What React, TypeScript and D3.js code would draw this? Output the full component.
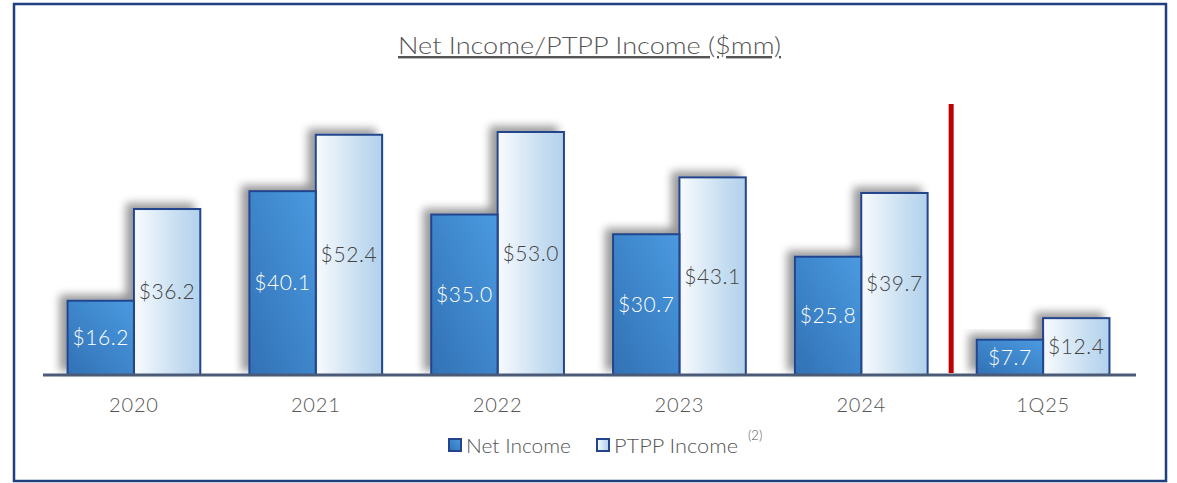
import React from 'react';
import * as d3 from 'd3';

const categories = ['2020', '2021', '2022', '2023', '2024', '1Q25'];
const netIncome = [16.2, 40.1, 35.0, 30.7, 25.8, 7.7];
const ptppIncome = [36.2, 52.4, 53.0, 43.1, 39.7, 12.4];
const seriesNames = ['Net Income', 'PTPP Income'];

const W = 1177;
const H = 483;
const font = "Lato, 'Open Sans', sans-serif";

export default function App() {
  const x = d3.scaleBand().domain(categories).range([43, 1134]).paddingInner(0.27).paddingOuter(0.135);
  const y = d3.scaleLinear().domain([0, 53]).range([375, 132]);
  const half = x.bandwidth() / 2;
  const fmt = (v: number) => '$' + v.toFixed(1);
  const divider = (x(categories[4])! + x.bandwidth() + x(categories[5])!) / 2 - 1;

  return (
    <svg width={W} height={H} style={{ position: 'absolute', left: 0, top: 0 }}>
      <defs>
        <linearGradient id="gNet" x1="0" y1="1" x2="1" y2="0">
          <stop offset="0" stopColor="#3271b5" />
          <stop offset="1" stopColor="#4a9ae0" />
        </linearGradient>
        <linearGradient id="gPtpp" x1="0" y1="0" x2="1" y2="0">
          <stop offset="0" stopColor="#f8fbfe" />
          <stop offset="0.7" stopColor="#c4dcf0" />
          <stop offset="1" stopColor="#b2d1ec" />
        </linearGradient>
        <filter id="shadow" x="-30%" y="-30%" width="160%" height="160%">
          <feGaussianBlur in="SourceAlpha" stdDeviation="4" />
          <feOffset dx="-7" dy="-5" result="b" />
          <feComponentTransfer>
            <feFuncA type="linear" slope="0.4" />
          </feComponentTransfer>
          <feMerge>
            <feMergeNode />
            <feMergeNode in="SourceGraphic" />
          </feMerge>
        </filter>
      </defs>
      <rect x={0} y={0} width={W} height={H} fill="#fff" />
      <rect x={14} y={4} width={1152} height={477} fill="none" stroke="#1f3f7e" strokeWidth={2.5} />

      <text x={398} y={54} textLength={383} lengthAdjust="spacingAndGlyphs" fontFamily={font} fontSize={24}
        fontWeight={300} fill="#555" textDecoration="underline">Net Income/PTPP Income ($mm)</text>

      {categories.map((c, i) => {
        const x0 = x(c)!;
        return (
          <g key={c}>
            <rect x={x0 + half} y={y(ptppIncome[i])} width={half} height={y(0) - y(ptppIncome[i])}
              fill="url(#gPtpp)" stroke="#23448c" strokeWidth={2} filter="url(#shadow)" />
            <rect x={x0} y={y(netIncome[i])} width={half} height={y(0) - y(netIncome[i])}
              fill="url(#gNet)" stroke="#23448c" strokeWidth={2} filter="url(#shadow)" />
            <text x={x0 + half / 2} y={(y(netIncome[i]) + y(0)) / 2} dy="0.35em" textAnchor="middle"
              fontFamily={font} fontSize={21} fontWeight={300} letterSpacing={0.6} fill="#fff">{fmt(netIncome[i])}</text>
            <text x={x0 + half * 1.5} y={(y(ptppIncome[i]) + y(0)) / 2} dy="0.35em" textAnchor="middle"
              fontFamily={font} fontSize={21} fontWeight={300} letterSpacing={0.6} fill="#444">{fmt(ptppIncome[i])}</text>
            <text x={x0 + half} y={412} textAnchor="middle" fontFamily={font} fontSize={20}
              fontWeight={300} letterSpacing={0.8} fill="#555">{c}</text>
          </g>
        );
      })}

      <line x1={43} x2={1136} y1={y(0)} y2={y(0)} stroke="#4b5a77" strokeWidth={3} />
      <line x1={divider} x2={divider} y1={104} y2={373} stroke="#c00000" strokeWidth={5} />

      <g fontFamily={font} fontSize={20} fontWeight={300} fill="#555">
        <rect x={449} y={439} width={12} height={12} fill="url(#gNet)" stroke="#23448c" strokeWidth={2} />
        <text x={466} y={453} textLength={105} lengthAdjust="spacingAndGlyphs">{seriesNames[0]}</text>
        <rect x={597} y={439} width={12} height={12} fill="url(#gPtpp)" stroke="#23448c" strokeWidth={2} />
        <text x={614} y={453} textLength={124} lengthAdjust="spacingAndGlyphs">{seriesNames[1]}</text>
        <text x={748} y={440} fontSize={13}>(2)</text>
      </g>
    </svg>
  );
}
